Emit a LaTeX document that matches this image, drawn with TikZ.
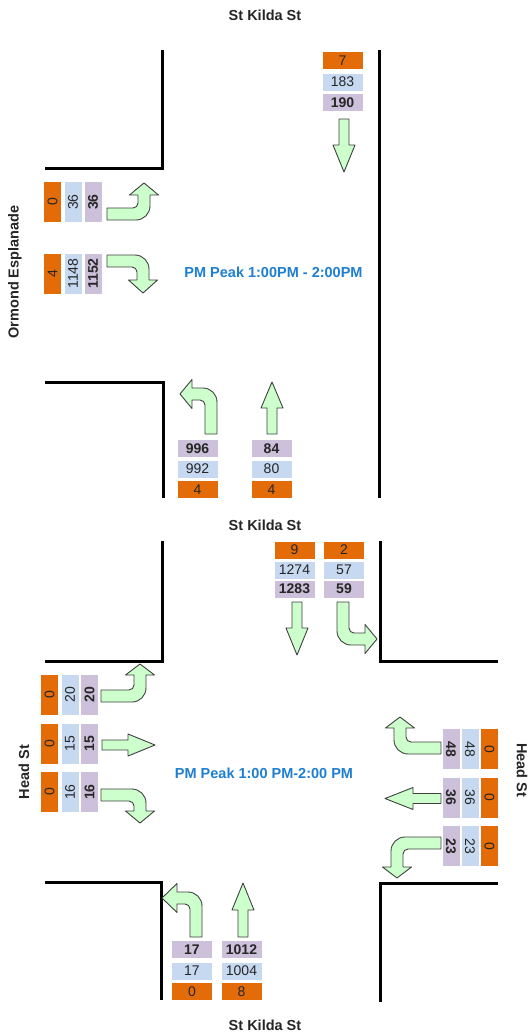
\documentclass[tikz,border=0pt]{standalone}
\usepackage{fontspec}
\setmainfont{Liberation Sans}
\definecolor{orangeC}{HTML}{E36C09}
\definecolor{blueC}{HTML}{C6D9F1}
\definecolor{purpC}{HTML}{CCC0DA}
\definecolor{greenC}{HTML}{CCFFCC}
\definecolor{peakC}{HTML}{1E7FD2}
\definecolor{txtC}{HTML}{262626}
\tikzset{
  road/.style={line width=3pt, line join=miter},
  arrowshape/.style={fill=greenC, draw=black!75, line width=0.9pt, line join=round},
  cnt/.style={minimum width=40pt, minimum height=17pt, inner sep=0pt, text=txtC,
    font=\fontsize{14}{14}\selectfont},
  orng/.style={cnt, fill=orangeC},
  blu/.style={cnt, fill=blueC},
  prp/.style={cnt, fill=purpC, font=\fontsize{14}{14}\selectfont\bfseries},
  streetlbl/.style={font=\fontsize{14.5}{14.5}\selectfont\bfseries, text=txtC},
  peaklbl/.style={font=\fontsize{14.5}{14.5}\selectfont\bfseries, text=peakC},
  pics/turn/.style args={#1/#2/#3}{code={
    \filldraw[arrowshape] (0,-6) -- ({#1-11},-6)
      .. controls ({#1-8.24},-6) and ({#1-6},-8.24) .. ({#1-6},-11)
      -- ({#1-6},{-#2}) -- ({#1-14.5},{-#2}) -- (#1,{-#2-#3})
      -- ({#1+14.5},{-#2}) -- ({#1+6},{-#2}) -- ({#1+6},-8)
      .. controls ({#1+6},-0.27) and ({#1-0.27},6) .. ({#1-8},6)
      -- (0,6) -- cycle;
  }},
  pics/straight/.style args={#1/#2}{code={
    \filldraw[arrowshape] (0,-5) -- ({#1-#2},-5) -- ({#1-#2},-11) -- (#1,0)
      -- ({#1-#2},11) -- ({#1-#2},5) -- (0,5) -- cycle;
  }}
}
\begin{document}
\begin{tikzpicture}[x=1pt,y=-1pt]
\useasboundingbox[fill=white] (0,0) rectangle (530,1034);

% ---------------- Top intersection ----------------
\node[streetlbl] (t1) at (265,15) {St Kilda St};
\node[streetlbl, rotate=90] (t2) at (15,272) {Ormond Esplanade};
\node[peaklbl] (t3) at (273.5,272) {PM Peak 1:00PM - 2:00PM};
\node[streetlbl] (t4) at (265,525) {St Kilda St};

\draw[road] (162,50) -- (162,168) -- (45,168);
\draw[road] (379,50) -- (379,498);
\draw[road] (45,382) -- (163,382) -- (163,498);

% north approach
\node[orng] (n1) at (342.5,60.5) {7};
\node[blu]  (n2) at (342.5,82) {183};
\node[prp]  (n3) at (342.5,102.5) {190};
\pic[rotate=-90] at (344,119) {straight=53/27};

% west approach
\node[orng, rotate=90] (w1) at (52.5,202) {0};
\node[blu, rotate=90]  (w2) at (73,202) {36};
\node[prp, rotate=90]  (w3) at (93,202) {36};
\node[orng, rotate=90] (w4) at (52.5,273.5) {4};
\node[blu, rotate=90]  (w5) at (73,273.5) {1148};
\node[prp, rotate=90]  (w6) at (93,273.5) {1152};
\pic at (107,214) {turn=37/19/12};
\pic[yscale=-1] at (107,261) {turn=36/19/13};

% south approach
\node[prp]  (s1) at (197.5,448.5) {996};
\node[blu]  (s2) at (197.5,469) {992};
\node[orng] (s3) at (197.5,489.5) {4};
\node[prp]  (s4) at (271.5,448.5) {84};
\node[blu]  (s5) at (271.5,469) {80};
\node[orng] (s6) at (271.5,489.5) {4};
\pic[rotate=90] at (211,434) {turn=40/19/12};
\pic[rotate=90] at (272,434) {straight=52/26};

% ---------------- Bottom intersection ----------------
\node[streetlbl, rotate=90] (b1) at (24,772) {Head St};
\node[streetlbl, rotate=-90] (b2) at (522,770) {Head St};
\node[peaklbl] (b3) at (264,773) {PM Peak 1:00 PM-2:00 PM};
\node[streetlbl] (b4) at (265,1025) {St Kilda St};

\draw[road] (162,541) -- (162,661) -- (45,661);
\draw[road] (380,541) -- (380,661) -- (498,661);
\draw[road] (45,882) -- (161,882) -- (161,1000);
\draw[road] (380,1002) -- (380,883) -- (498,883);

% north approach
\node[orng] (bn1) at (294.5,550) {9};
\node[blu]  (bn2) at (294.5,570) {1274};
\node[prp]  (bn3) at (294.5,589) {1283};
\node[orng] (bn4) at (344,550) {2};
\node[blu]  (bn5) at (344,570) {57};
\node[prp]  (bn6) at (344,589) {59};
\pic[rotate=-90] at (297,602) {straight=53/27};
\pic[rotate=-90] at (343,602) {turn=37/22/12};

% west approach
\node[orng, rotate=90] (bw1) at (49.5,694.5) {0};
\node[blu, rotate=90]  (bw2) at (70,694.5) {20};
\node[prp, rotate=90]  (bw3) at (89.5,694.5) {20};
\node[orng, rotate=90] (bw4) at (49.5,743.5) {0};
\node[blu, rotate=90]  (bw5) at (70,743.5) {15};
\node[prp, rotate=90]  (bw6) at (89.5,743.5) {15};
\node[orng, rotate=90] (bw7) at (49.5,792) {0};
\node[blu, rotate=90]  (bw8) at (70,792) {16};
\node[prp, rotate=90]  (bw9) at (89.5,792) {16};
\pic at (101,696) {turn=39/21/11};
\pic at (102,745) {straight=53/27};
\pic[yscale=-1] at (101,795) {turn=39/16/12};

% east approach
\node[prp, rotate=-90]  (be1) at (451,749) {48};
\node[blu, rotate=-90]  (be2) at (470,749) {48};
\node[orng, rotate=-90] (be3) at (489.5,749) {0};
\node[prp, rotate=-90]  (be4) at (451,797.5) {36};
\node[blu, rotate=-90]  (be5) at (470,797.5) {36};
\node[orng, rotate=-90] (be6) at (489.5,797.5) {0};
\node[prp, rotate=-90]  (be7) at (451,846) {23};
\node[blu, rotate=-90]  (be8) at (470,846) {23};
\node[orng, rotate=-90] (be9) at (489.5,846) {0};
\pic[xscale=-1] at (441,748) {turn=41/20/11};
\pic[rotate=180] at (441,798.5) {straight=56/28};
\pic[rotate=180] at (441,843) {turn=44/24/11};

% south approach
\node[prp]  (bs1) at (192,949.5) {17};
\node[blu]  (bs2) at (192,971) {17};
\node[orng] (bs3) at (192,991.5) {0};
\node[prp]  (bs4) at (241.5,949.5) {1012};
\node[blu]  (bs5) at (241.5,971) {1004};
\node[orng] (bs6) at (241.5,991.5) {8};
\pic[rotate=90] at (196,937) {turn=39/19/15};
\pic[rotate=90] at (243,937) {straight=54/27};
\end{tikzpicture}
\end{document}
